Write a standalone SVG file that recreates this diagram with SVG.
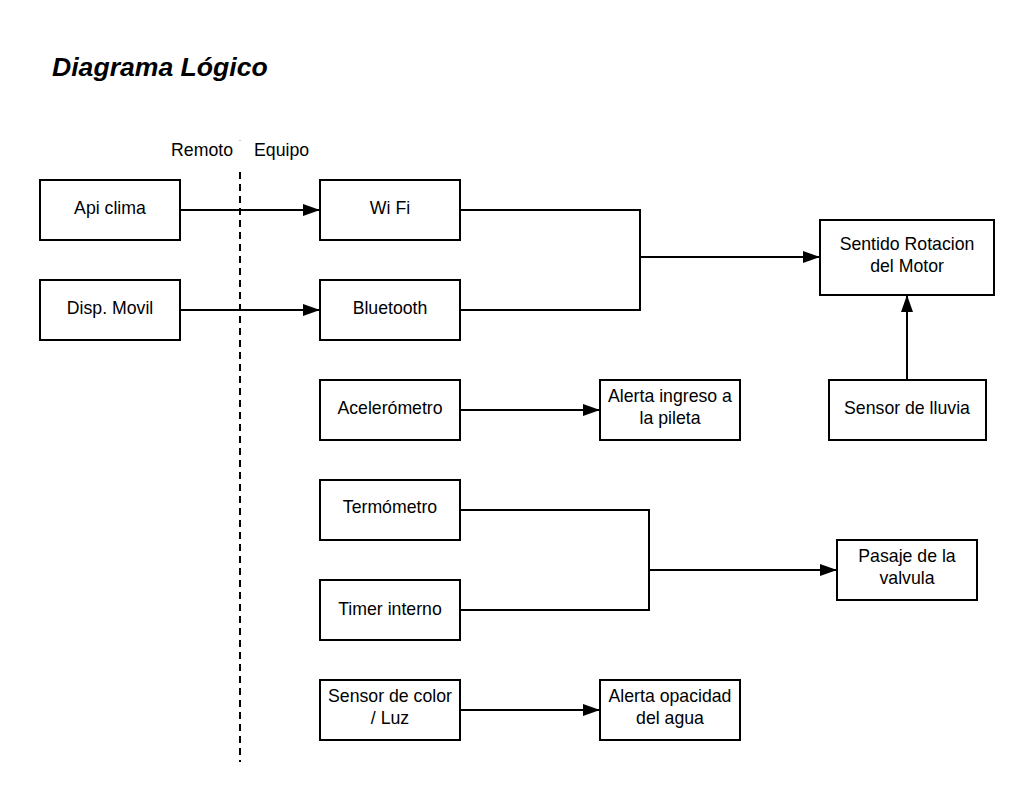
<svg xmlns="http://www.w3.org/2000/svg" width="1035" height="800" viewBox="0 0 1035 800">
<defs>
<style>
.box{fill:#fff;stroke:#000;stroke-width:2}
.t{font-family:"Liberation Sans",Arial,sans-serif;font-size:17.7px;fill:#000;text-anchor:middle}
.c{fill:none;stroke:#000;stroke-width:2}
</style>
<marker id="ah" markerWidth="18" markerHeight="14" refX="17" refY="7" orient="auto" markerUnits="userSpaceOnUse">
<path d="M0,1 L17,7 L0,13 Z" fill="#000"/>
</marker>
</defs>
<rect width="1035" height="800" fill="#fff"/>
<text x="52" y="76" font-family="Liberation Sans,Arial,sans-serif" font-size="26.6" font-weight="bold" font-style="italic">Diagrama Lógico</text>
<text x="233" y="156" class="t" style="text-anchor:end">Remoto</text>
<text x="254" y="156" class="t" style="text-anchor:start">Equipo</text>
<line x1="240" y1="140" x2="240" y2="141" stroke="#000" stroke-width="1" opacity="0.4"/>
<line x1="240" y1="172" x2="240" y2="762" stroke="#000" stroke-width="2" stroke-dasharray="7,5"/>
<g id="connectors">
<path class="c" d="M180,210 H320" marker-end="url(#ah)"/>
<path class="c" d="M180,310 H320" marker-end="url(#ah)"/>
<path class="c" d="M460,210 H640 V310 H460"/>
<path class="c" d="M640,257 H820" marker-end="url(#ah)"/>
<path class="c" d="M907,380 V295" marker-end="url(#ah)"/>
<path class="c" d="M460,410 H600" marker-end="url(#ah)"/>
<path class="c" d="M460,510 H649 V610 H460"/>
<path class="c" d="M649,570 H837" marker-end="url(#ah)"/>
<path class="c" d="M460,710 H600" marker-end="url(#ah)"/>
</g>
<g id="api"><rect class="box" x="40" y="180" width="140" height="60"/><text class="t" x="110" y="214">Api clima</text></g>
<g id="disp"><rect class="box" x="40" y="280" width="140" height="60"/><text class="t" x="110" y="314">Disp. Movil</text></g>
<g id="wifi"><rect class="box" x="320" y="180" width="140" height="60"/><text class="t" x="390" y="214">Wi Fi</text></g>
<g id="bt"><rect class="box" x="320" y="280" width="140" height="60"/><text class="t" x="390" y="314">Bluetooth</text></g>
<g id="acel"><rect class="box" x="320" y="380" width="140" height="60"/><text class="t" x="390" y="414">Acelerómetro</text></g>
<g id="term"><rect class="box" x="320" y="480" width="140" height="60"/><text class="t" x="390" y="513">Termómetro</text></g>
<g id="timer"><rect class="box" x="320" y="580" width="140" height="60"/><text class="t" x="390" y="615">Timer interno</text></g>
<g id="color"><rect class="box" x="320" y="680" width="140" height="60"/><text class="t" x="390" y="702">Sensor de color</text><text class="t" x="390" y="724">/ Luz</text></g>
<g id="alerta1"><rect class="box" x="600" y="380" width="140" height="60"/><text class="t" x="670" y="402">Alerta ingreso a</text><text class="t" x="670" y="424">la pileta</text></g>
<g id="alerta2"><rect class="box" x="600" y="680" width="140" height="60"/><text class="t" x="670" y="702">Alerta opacidad</text><text class="t" x="670" y="724">del agua</text></g>
<g id="sentido"><rect class="box" x="820" y="220" width="174" height="75"/><text class="t" x="907" y="250">Sentido Rotacion</text><text class="t" x="907" y="272">del Motor</text></g>
<g id="lluvia"><rect class="box" x="829" y="380" width="157" height="60"/><text class="t" x="907" y="414">Sensor de lluvia</text></g>
<g id="pasaje"><rect class="box" x="837" y="540" width="140" height="60"/><text class="t" x="907" y="562">Pasaje de la</text><text class="t" x="907" y="584">valvula</text></g>
</svg>
